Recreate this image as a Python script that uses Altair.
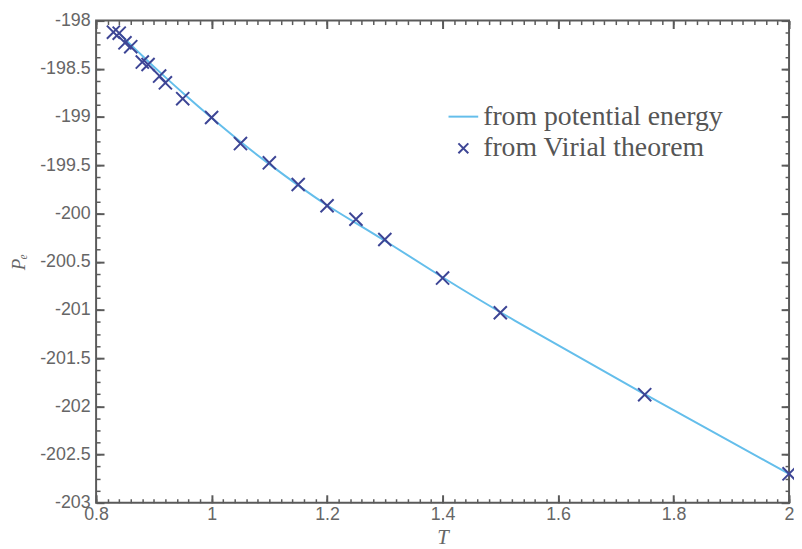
import altair as alt
import numpy as np
import pandas as pd

# ---- data ----
T_vals = [0.83, 0.84, 0.85, 0.86, 0.88, 0.89, 0.91, 0.92, 0.95, 1.0,
          1.05, 1.1, 1.15, 1.2, 1.25, 1.3, 1.4, 1.5, 1.75, 2.0]
P_virial = [-198.12, -198.13, -198.23, -198.27, -198.43, -198.455, -198.575, -198.645, -198.81, -199.005,
            -199.275, -199.475, -199.70, -199.92, -200.06, -200.27, -200.67, -201.03, -201.88, -202.70]

T_line = [0.84, 0.86, 0.88, 0.90, 0.92, 0.95, 1.0, 1.05, 1.1, 1.15, 1.2, 1.25, 1.3, 1.4, 1.5, 1.75, 2.0]
P_potential = [-198.13, -198.25, -198.365, -198.478, -198.588, -198.75, -199.01, -199.26, -199.49, -199.71,
               -199.92, -200.10, -200.28, -200.665, -201.03, -201.88, -202.70]

series_names = ["from potential energy", "from Virial theorem"]
x_major = [0.8, 1.0, 1.2, 1.4, 1.6, 1.8, 2.0]
y_major = [-203, -202.5, -202, -201.5, -201, -200.5, -200, -199.5, -199, -198.5, -198]
x_minor = [round(v, 3) for v in np.arange(0.8, 2.0001, 0.02)]
y_minor = [round(v, 4) for v in np.arange(-203, -197.999, 0.125)]

line_df = pd.DataFrame({"T": T_line, "P": P_potential})
pts_df = pd.DataFrame({"T": T_vals, "P": P_virial, "series": series_names[1]})

LINE_C = "#64BEEB"
PT_C = "#3D4595"
AX_C = "#5a5a5a"
TXT_C = "#666666"

xs = alt.Scale(domain=[0.8, 2.0], nice=False, zero=False)
ys = alt.Scale(domain=[-203, -198], nice=False, zero=False)

def major_axis(orient, values, labels=True, title=None, **kw):
    return alt.Axis(orient=orient, values=values, offset=-8, tickSize=8, tickWidth=2,
                    tickColor=AX_C, domain=False, grid=False, labels=labels,
                    labelFont="Liberation Sans", labelFontSize=18, labelColor=TXT_C,
                    labelFlush=False, labelOverlap=False,
                    labelExpr="toString(datum.value)",
                    title=title, **kw)

def minor_axis(orient, values):
    return alt.Axis(orient=orient, values=values, offset=-4, tickSize=4, tickWidth=1.5,
                    tickColor=AX_C, domain=False, grid=False, labels=False, title=None)

line = alt.Chart(line_df).mark_line(color=LINE_C, strokeWidth=2, interpolate="basis").encode(
    x=alt.X("T:Q", scale=xs,
            axis=major_axis("bottom", x_major, title="T", labelPadding=3,
                            titleFont="Liberation Serif", titleFontStyle="italic",
                            titleFontWeight="normal", titleFontSize=21, titleColor=TXT_C,
                            titleBaseline="alphabetic", titleY=49)),
    y=alt.Y("P:Q", scale=ys,
            axis=major_axis("left", y_major, title="Pₑ", labelPadding=6,
                            titleFont="Liberation Serif", titleFontStyle="italic",
                            titleFontWeight="normal", titleFontSize=19, titleColor=TXT_C,
                            titleBaseline="middle", titleX=-86)),
)

cross = "M-1,-1L1,1M1,-1L-1,1"
legline = "M-3,0L3,0"

pts = alt.Chart(pts_df).mark_point(filled=False, size=175, strokeWidth=2, opacity=1).encode(
    x=alt.X("T:Q", scale=xs, axis=minor_axis("bottom", x_minor)),
    y=alt.Y("P:Q", scale=ys, axis=minor_axis("left", y_minor)),
    color=alt.Color("series:N", scale=alt.Scale(domain=series_names, range=[LINE_C, PT_C]),
                    legend=alt.Legend(title=None, orient="none", legendX=357, legendY=83,
                                      labelFont="Liberation Serif", labelFontSize=28,
                                      labelColor="#555555", labelOffset=6, labelLimit=0,
                                      symbolSize=100, symbolStrokeWidth=2,
                                      rowPadding=4, padding=0)),
    shape=alt.Shape("series:N", scale=alt.Scale(domain=series_names, range=[legline, cross]),
                    legend=None),
)

top_major = alt.Chart(pts_df).mark_point(opacity=0).encode(
    x=alt.X("T:Q", scale=xs, axis=major_axis("top", x_major, labels=False)),
    y=alt.Y("P:Q", scale=ys, axis=major_axis("right", y_major, labels=False)),
)
top_minor = alt.Chart(pts_df).mark_point(opacity=0).encode(
    x=alt.X("T:Q", scale=xs, axis=minor_axis("top", x_minor)),
    y=alt.Y("P:Q", scale=ys, axis=minor_axis("right", y_minor)),
)

chart = alt.layer(line, pts, top_major, top_minor).resolve_axis(
    x="independent", y="independent"
).properties(
    width=700, height=487,
    autosize=alt.AutoSizeParams(type="none"),
    padding={"left": 89, "top": 10, "right": 5, "bottom": 42},
).configure_view(stroke=AX_C, strokeWidth=2)

chart.save("out.html", embed_options={"renderer": "svg", "actions": False})
